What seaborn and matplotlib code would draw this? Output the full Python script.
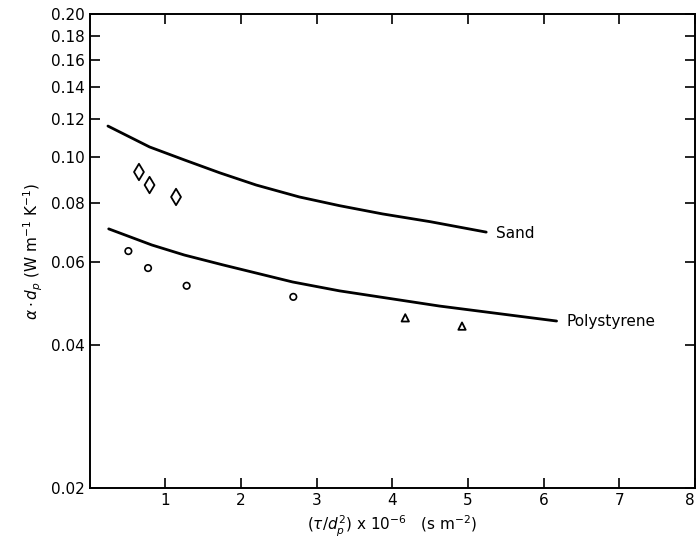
import numpy as np
import pandas as pd
import matplotlib
matplotlib.use('Agg')
import matplotlib.pyplot as plt
from matplotlib.ticker import FixedLocator, NullLocator
import seaborn as sns

# curves
sand_x = [0.24, 0.79, 1.25, 1.72, 2.20, 2.77, 3.30, 3.87, 4.50, 5.24]
sand_y = [0.116, 0.1048, 0.0984, 0.0924, 0.0871, 0.0822, 0.0788, 0.0757, 0.0729, 0.0693]
poly_x = [0.25, 0.82, 1.25, 1.76, 2.68, 3.30, 4.62, 6.17]
poly_y = [0.0704, 0.0651, 0.0620, 0.0591, 0.0544, 0.0521, 0.0484, 0.0450]

# measured points
diam_x = [0.65, 0.79, 1.14]
diam_y = [0.0928, 0.0871, 0.0822]
circ_x = [0.51, 0.77, 1.28, 2.69]
circ_y = [0.0632, 0.0582, 0.0534, 0.0506]
tri_x = [4.17, 4.92]
tri_y = [0.0457, 0.0439]

y_ticks = [0.02, 0.04, 0.06, 0.08, 0.10, 0.12, 0.14, 0.16, 0.18, 0.20]
y_labels = ['0.02', '0.04', '0.06', '0.08', '0.10', '0.12', '0.14', '0.16', '0.18', '0.20']
x_ticks = [1, 2, 3, 4, 5, 6, 7, 8]

sns.set_style('ticks')
plt.rcParams['font.family'] = ['DejaVu Sans']
plt.rcParams['text.color'] = 'black'
plt.rcParams['axes.labelcolor'] = 'black'

fig = plt.figure(figsize=(6.96, 5.40), dpi=100)
ax = fig.add_axes([0.129, 0.0963, 0.8696, 0.878])

sand = pd.DataFrame({'x': sand_x, 'y': sand_y})
poly = pd.DataFrame({'x': poly_x, 'y': poly_y})
sns.lineplot(data=sand, x='x', y='y', color='black', linewidth=2.0, estimator=None, sort=False, ax=ax)
sns.lineplot(data=poly, x='x', y='y', color='black', linewidth=2.0, estimator=None, sort=False, ax=ax)

sns.scatterplot(x=diam_x, y=diam_y, marker='d', s=70, facecolors='none', edgecolor='black', linewidth=1.3, ax=ax)
sns.scatterplot(x=circ_x, y=circ_y, marker='o', s=22, facecolors='none', edgecolor='black', linewidth=1.2, ax=ax)
sns.scatterplot(x=tri_x, y=tri_y, marker='^', s=28, facecolors='none', edgecolor='black', linewidth=1.3, ax=ax)

ax.text(5.37, 0.0690, 'Sand', fontsize=11, va='center', ha='left')
ax.text(6.3, 0.0450, 'Polystyrene', fontsize=11, va='center', ha='left')

ax.set_yscale('log')
ax.set_ylim(0.02, 0.20)
ax.set_xlim(0, 8)
ax.yaxis.set_major_locator(FixedLocator(y_ticks))
ax.yaxis.set_minor_locator(NullLocator())
ax.set_yticklabels(y_labels)
ax.set_xticks(x_ticks)
ax.set_xticklabels([str(t) for t in x_ticks])
# last label sits on the right edge, keep it inside the figure
ax.get_xticklabels()[-1].set_horizontalalignment('right')

ax.tick_params(axis='both', which='major', direction='in', length=7, width=1.2,
               labelsize=11, top=True, right=True, colors='black')
for s in ax.spines.values():
    s.set_linewidth(1.4)
    s.set_color('black')

ax.set_xlabel(r'$(\tau/d_p^2)$ x 10$^{-6}$   (s m$^{-2}$)', fontsize=11)
ax.set_ylabel(r'$\alpha \cdot d_p$ (W m$^{-1}$ K$^{-1}$)', fontsize=11)

fig.savefig('out.png', dpi=100)
